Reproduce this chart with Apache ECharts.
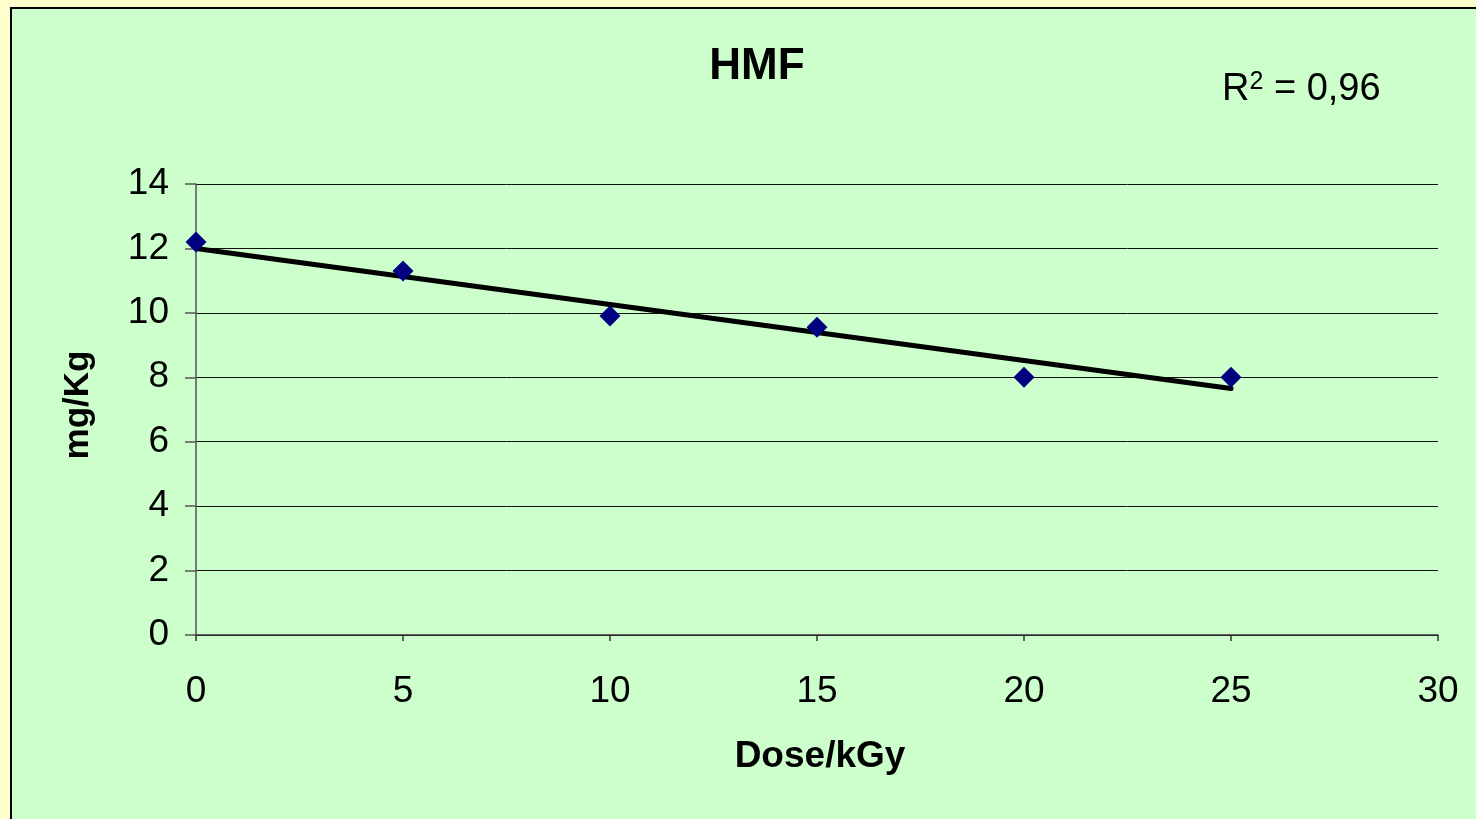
<!DOCTYPE html>
<html>
<head>
<meta charset="utf-8">
<script src="https://cdn.jsdelivr.net/npm/echarts@6/dist/echarts.min.js"></script>
<style>
  html, body { margin: 0; padding: 0; background: #ffffcc; }
  #chart { width: 1476px; height: 819px; }
</style>
</head>
<body>
<div id="chart"></div>
<script>
// dose (kGy) and HMF (mg/Kg)
const doses = [0, 5, 10, 15, 20, 25];
const hmf = [12.2, 11.3, 9.9, 9.55, 8.0, 8.0];
// linear trend line ends
const trendX = [0, 25];
const trendY = [12.0, 7.65];
const r2Label = '0,96';

const font = 'Liberation Sans, Arial, sans-serif';
const chart = echarts.init(document.getElementById('chart'));

chart.setOption({
  backgroundColor: '#ffffcc',
  animation: false,
  graphic: [
    {
      type: 'rect',
      z: -10,
      shape: { x: 11, y: 8, width: 1480, height: 830 },
      style: { fill: '#ccffcc', stroke: '#000', lineWidth: 2 }
    },
    {
      type: 'text', x: 757, y: 67,
      style: {
        text: 'HMF', fontFamily: font, fontWeight: 'bold', fontSize: 44,
        fill: '#000', align: 'center', verticalAlign: 'middle'
      }
    },
    {
      type: 'text', x: 820, y: 757,
      style: {
        text: 'Dose/kGy', fontFamily: font, fontWeight: 'bold', fontSize: 37,
        fill: '#000', align: 'center', verticalAlign: 'middle'
      }
    },
    {
      type: 'text', x: 78, y: 405, rotation: Math.PI / 2,
      style: {
        text: 'mg/Kg', fontFamily: font, fontWeight: 'bold', fontSize: 35,
        fill: '#000', align: 'center', verticalAlign: 'middle'
      }
    },
    {
      type: 'text', x: 1222, y: 90,
      style: {
        text: '{r|R}{s|2}{r| = ' + r2Label + '}',
        align: 'left', verticalAlign: 'middle',
        rich: {
          r: { fontFamily: font, fontSize: 38, color: '#000' },
          s: { fontFamily: font, fontSize: 25, color: '#000', verticalAlign: 'top', padding: [0, 0, 16, 0] }
        }
      }
    }
  ],
  grid: { left: 196, right: 38, top: 184, bottom: 184 },
  xAxis: {
    type: 'value', min: 0, max: 30, interval: 5,
    axisLine: { show: true, onZero: false, lineStyle: { color: '#333', width: 1.5 } },
    axisTick: { show: true, length: 6, lineStyle: { color: '#333', width: 1.5 } },
    axisLabel: { margin: 38, fontFamily: font, fontSize: 37, color: '#000' },
    splitLine: { show: false }
  },
  yAxis: {
    type: 'value', min: 0, max: 14, interval: 2,
    axisLine: { show: true, lineStyle: { color: '#555', width: 1.5 } },
    axisTick: { show: true, length: 11, lineStyle: { color: '#555', width: 1.5 } },
    axisLabel: { margin: 27, fontFamily: font, fontSize: 37, color: '#000' },
    splitLine: { show: true, lineStyle: { color: '#111', width: 1 } }
  },
  series: [
    {
      type: 'line',
      data: trendX.map((x, i) => [x, trendY[i]]),
      symbol: 'none',
      lineStyle: { color: '#000', width: 5, cap: 'round' },
      z: 2
    },
    {
      type: 'scatter',
      data: doses.map((d, i) => [d, hmf[i]]),
      symbol: 'diamond',
      symbolSize: [21, 21],
      itemStyle: { color: '#000080', opacity: 1 },
      z: 3
    }
  ]
});
</script>
</body>
</html>
